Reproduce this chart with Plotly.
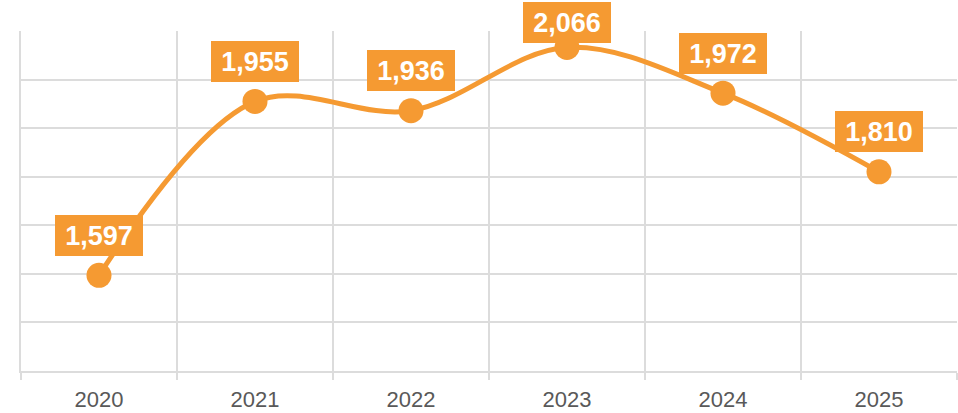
import plotly.graph_objects as go

# Yearly totals
years = ["2020", "2021", "2022", "2023", "2024", "2025"]
totals = [1597, 1955, 1936, 2066, 1972, 1810]
labels = ["1,597", "1,955", "1,936", "2,066", "1,972", "1,810"]

ORANGE = "#F59A32"
GRID = "#DCDCDC"
FONT = "Liberation Sans, Arial, sans-serif"

W, H = 958, 413
M_L, M_R, M_T, M_B = 21, 1, 31, 42
Y_MIN, Y_MAX = 1400, 2100
plot_h = H - M_T - M_B

fig = go.Figure()
fig.add_trace(go.Scatter(
    x=years, y=totals,
    mode="lines+markers",
    line=dict(color=ORANGE, width=5, shape="spline", smoothing=1),
    marker=dict(color=ORANGE, size=25),
    hoverinfo="skip",
))

# Value badges above each point, kept inside the figure near the top
box_h = 41
for i, (v, lab) in enumerate(zip(totals, labels)):
    px = M_T + (Y_MAX - v) / (Y_MAX - Y_MIN) * plot_h
    shift = min(40, px - (2 + box_h / 2))
    fig.add_annotation(
        x=i, y=v, xref="x", yref="y",  # category index on the x axis
        text=f"<b>{lab}</b>", showarrow=False,
        yshift=shift,
        font=dict(family=FONT, size=27, color="white"),
        bgcolor=ORANGE, borderwidth=0, borderpad=5,
        width=78, height=31,
    )

fig.update_layout(
    width=W, height=H,
    margin=dict(l=M_L, r=M_R, t=M_T, b=M_B),
    paper_bgcolor="white", plot_bgcolor="white",
    showlegend=False,
    font=dict(family=FONT),
)
fig.update_xaxes(
    type="category",
    tickson="boundaries",
    showgrid=True, gridcolor=GRID, gridwidth=2,
    ticks="outside", ticklen=7, tickwidth=2, tickcolor=GRID,
    showline=True, linecolor=GRID, linewidth=2,
    tickfont=dict(family=FONT, size=22, color="#595959"),
    ticklabelstandoff=8,
    range=[-0.5, 5.5],
)
fig.update_yaxes(
    range=[Y_MIN, Y_MAX], dtick=100, tick0=Y_MIN,
    showgrid=True, gridcolor=GRID, gridwidth=2,
    showticklabels=False, zeroline=False,
    showline=True, linecolor=GRID, linewidth=2,
)

fig.write_html("out.html")
